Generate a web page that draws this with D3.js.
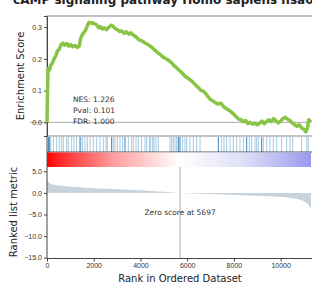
<!DOCTYPE html>
<html>
<head>
<meta charset="UTF-8">
<script src="https://d3js.org/d3.v7.min.js"></script>
<style>
  body { margin: 0; background: #fff; }
  svg { font-family: "DejaVu Sans", sans-serif; }
  .tick text { font-size: 7px; fill: #333; }
  .tick line { stroke: #444; }
  .domain { stroke: #444; }
</style>
</head>
<body>
<svg width="312" height="285"></svg>
<script>
// running enrichment score [rank, ES]
const esPoints = [
  [0,0],[20,0.09],[45,0.17],[110,0.165],[160,0.18],[220,0.185],[300,0.2],[380,0.21],[450,0.225],
  [520,0.23],[600,0.245],[690,0.25],[760,0.243],[850,0.248],[930,0.24],[1010,0.245],[1100,0.238],
  [1200,0.242],[1300,0.236],[1380,0.24],[1430,0.262],[1500,0.275],[1580,0.283],[1650,0.29],
  [1730,0.305],[1800,0.315],[1880,0.312],[1950,0.314],[2050,0.31],[2130,0.307],[2200,0.298],
  [2280,0.302],[2360,0.294],[2450,0.298],[2550,0.292],[2650,0.3],[2760,0.306],[2830,0.302],
  [2920,0.296],[3010,0.292],[3100,0.286],[3200,0.288],[3300,0.281],[3400,0.285],[3500,0.278],
  [3600,0.282],[3700,0.274],[3800,0.27],[3900,0.262],[4000,0.258],[4100,0.255],[4200,0.25],
  [4300,0.246],[4420,0.24],[4550,0.232],[4700,0.222],[4850,0.213],[5000,0.204],[5150,0.198],
  [5300,0.19],[5450,0.178],[5600,0.168],[5750,0.158],[5900,0.146],[6050,0.138],[6200,0.13],
  [6350,0.118],[6500,0.108],[6600,0.1],[6700,0.098],[6800,0.09],[6900,0.08],[7000,0.072],
  [7150,0.065],[7300,0.058],[7450,0.06],[7550,0.05],[7700,0.042],[7850,0.035],[8000,0.025],
  [8100,0.018],[8200,0.01],[8300,0.008],[8400,0.002],[8500,0.006],[8600,-0.004],[8700,0.0],
  [8800,-0.006],[8900,-0.002],[9000,-0.008],[9100,-0.003],[9200,0.004],[9300,-0.004],[9400,0.003],
  [9500,0.008],[9600,0.002],[9700,0.012],[9800,0.005],[9900,-0.002],[10000,0.004],[10100,0.012],
  [10200,0.016],[10300,0.01],[10400,0.006],[10500,-0.002],[10600,-0.008],[10700,-0.012],
  [10800,-0.008],[10900,-0.018],[11000,-0.022],[11080,-0.03],[11150,-0.018],[11200,0.008],
  [11260,0.004],[11300,0]
];

// gene set hit positions (rank)
const hits = [57,100,157,271,414,528,628,699,842,913,1056,1156,1270,1412,1455,1527,1627,1726,
  1841,1983,2126,2269,2411,2525,2582,2768,2839,2911,3010,3125,3239,3339,3481,3624,3695,3809,
  3909,4052,4194,4266,4380,4437,4523,4580,4665,4765,5265,5336,5407,5479,5550,5622,5693,5807,
  5907,5978,6121,6264,6406,6549,7333,7476,7576,7690,7833,7975,8118,8261,8403,8546,8660,8760,
  8903,8974,9046,9188,9260,9402,9545,9688,9830,10044,10258,10401,10515,10900,11114,11185];
// hits drawn darker in the strip
const strongHits = [57,100,1412,2768,3339,5622,5693,7333,8546,9188];

// ranked list metric [rank, value]
const metricPoints = [
  [0,3.4],[20,3.0],[60,2.6],[130,2.2],[250,1.95],[400,1.8],[600,1.65],[900,1.5],[1400,1.3],
  [2000,1.1],[2600,0.95],[3200,0.8],[4000,0.6],[4800,0.35],[5697,0],[6500,-0.2],[7500,-0.4],
  [8500,-0.6],[9500,-0.8],[10200,-1.0],[10700,-1.4],[11000,-1.9],[11150,-2.5],[11250,-3.2],[11300,-3.8]
];

const nRanks = 11300;
const zeroScore = 5697;
const stats = ["NES: 1.226", "Pval: 0.101", "FDR: 1.000"];
const title = "cAMP signaling pathway Homo sapiens hsa04024";
const esTicks = [0.0, 0.1, 0.2, 0.3];
const metricTicks = [5, 0, -5, -10, -15];
const rankTicks = [0, 2000, 4000, 6000, 8000, 10000];

const svg = d3.select("svg");
const left = 47, right = 311;

const x = d3.scaleLinear().domain([0, nRanks]).range([left, right]);
const yEs = d3.scaleLinear().domain([-0.043, 0.335]).range([136, 16]);
const yMetric = d3.scaleLinear().domain([-15.2, 6]).range([258.5, 167]);

// title (cut off at top)
svg.append("text")
  .attr("x", 180).attr("y", 4)
  .attr("text-anchor", "middle")
  .attr("font-size", 12).attr("font-weight", "bold").attr("fill", "#222")
  .text(title);

// ES panel frame
svg.append("rect")
  .attr("x", left).attr("y", 16).attr("width", right - left + 5).attr("height", 120)
  .attr("fill", "none").attr("stroke", "#888").attr("stroke-width", 1);

svg.append("line")
  .attr("x1", 30).attr("x2", right)
  .attr("y1", yEs(0)).attr("y2", yEs(0))
  .attr("stroke", "#aaa").attr("stroke-width", 1);

svg.append("g")
  .attr("transform", `translate(${left},0)`)
  .call(d3.axisLeft(yEs).tickValues(esTicks).tickFormat(d3.format(".1f")).tickSize(3).tickPadding(2))
  .call(g => g.select(".domain").attr("stroke", "#555"));

svg.append("path")
  .datum(esPoints)
  .attr("fill", "none")
  .attr("stroke", "#88C544")
  .attr("stroke-width", 3.5)
  .attr("stroke-linejoin", "round")
  .attr("d", d3.line().x(d => x(d[0])).y(d => yEs(d[1])));

svg.selectAll(".stat")
  .data(stats)
  .enter().append("text")
  .attr("class", "stat")
  .attr("x", 73)
  .attr("y", (d, i) => 101.5 + i * 11)
  .attr("font-size", 7.5).attr("fill", "#333")
  .text(d => d);

svg.append("text")
  .attr("transform", "translate(24,76) rotate(-90)")
  .attr("text-anchor", "middle")
  .attr("font-size", 10).attr("fill", "#222")
  .text("Enrichment Score");

// hit strip
svg.append("g").selectAll("line")
  .data(hits)
  .enter().append("line")
  .attr("x1", d => x(d)).attr("x2", d => x(d))
  .attr("y1", 137).attr("y2", 152)
  .attr("stroke", "#1f77b4")
  .attr("stroke-width", 1)
  .attr("stroke-opacity", d => strongHits.includes(d) ? 0.9 : 0.4);

svg.append("line")
  .attr("x1", left).attr("x2", right + 5).attr("y1", 152).attr("y2", 152)
  .attr("stroke", "#555");
svg.append("line")
  .attr("x1", left).attr("x2", left).attr("y1", 136).attr("y2", 167)
  .attr("stroke", "#555");

// colour bar of the ranked metric
const grad = svg.append("defs").append("linearGradient").attr("id", "bwr");
[[0, "#ff0000"], [0.04, "#ff2424"], [0.25, "#ff9c9c"], [0.5, "#ffffff"], [0.75, "#dedef8"], [1, "#9a9aee"]]
  .forEach(s => grad.append("stop").attr("offset", s[0]).attr("stop-color", s[1]));
svg.append("rect")
  .attr("x", left).attr("y", 152.5).attr("width", right - left).attr("height", 14.5)
  .attr("fill", "url(#bwr)");

// ranked metric panel
svg.append("path")
  .datum(metricPoints)
  .attr("fill", "#C9D3DB")
  .attr("d", d3.area().x(d => x(d[0])).y0(yMetric(0)).y1(d => yMetric(d[1])));

svg.append("line")
  .attr("x1", x(zeroScore)).attr("x2", x(zeroScore))
  .attr("y1", 167).attr("y2", 258.5)
  .attr("stroke", "#999").attr("stroke-width", 0.8);

svg.append("text")
  .attr("x", x(zeroScore)).attr("y", 215)
  .attr("text-anchor", "middle")
  .attr("font-size", 7.5).attr("fill", "#333")
  .text("Zero score at " + zeroScore);

svg.append("g")
  .attr("transform", `translate(${left},0)`)
  .call(d3.axisLeft(yMetric).tickValues(metricTicks).tickFormat(d3.format(".1f")).tickSize(3).tickPadding(2))
  .call(g => g.select(".domain").remove());

svg.append("g")
  .attr("transform", "translate(0,258.5)")
  .call(d3.axisBottom(x).tickValues(rankTicks).tickFormat(d3.format("d")).tickSize(3).tickPadding(2))
  .call(g => g.select(".domain").attr("d", `M${left},0H${right + 5}`));

svg.append("line")
  .attr("x1", left).attr("x2", left).attr("y1", 167).attr("y2", 258.5)
  .attr("stroke", "#444");

svg.append("text")
  .attr("transform", "translate(17,212) rotate(-90)")
  .attr("text-anchor", "middle")
  .attr("font-size", 10).attr("fill", "#222")
  .text("Ranked list metric");

svg.append("text")
  .attr("x", 180).attr("y", 282)
  .attr("text-anchor", "middle")
  .attr("font-size", 10).attr("fill", "#222")
  .text("Rank in Ordered Dataset");
</script>
</body>
</html>
